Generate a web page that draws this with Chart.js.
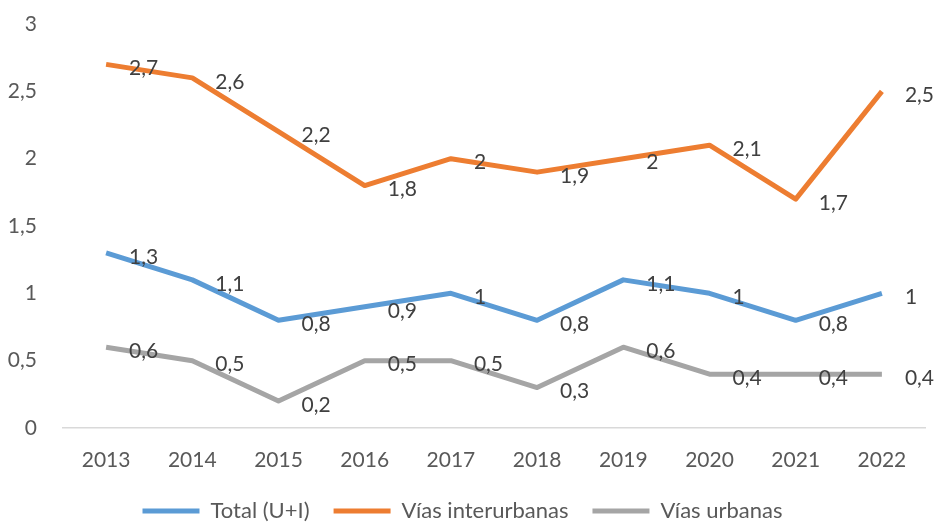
<!DOCTYPE html>
<html>
<head>
<meta charset="utf-8">
<script src="https://cdn.jsdelivr.net/npm/chart.js@4/dist/chart.umd.min.js"></script>
<style>
  html, body { margin: 0; padding: 0; background: #fff; }
  #wrap { width: 936px; height: 523px; }
</style>
</head>
<body>
<div id="wrap"><canvas id="chart"></canvas></div>
<script>
// ── DATA ─────────────────────────────────────────
const years        = ['2013', '2014', '2015', '2016', '2017', '2018', '2019', '2020', '2021', '2022'];
const total        = [1.3, 1.1, 0.8, 0.9, 1, 0.8, 1.1, 1, 0.8, 1];
const interurbanas = [2.7, 2.6, 2.2, 1.8, 2, 1.9, 2, 2.1, 1.7, 2.5];
const urbanas      = [0.6, 0.5, 0.2, 0.5, 0.5, 0.3, 0.6, 0.4, 0.4, 0.4];

const FONT = 'Lato';
const LEGEND_PAD = 24;
const LEGEND_Y = 511;    // centre line of the legend row
const AREA_BOTTOM = 428; // bottom of plot area
const fmt = v => String(v).replace('.', ',');

// ── DATA LABELS (to the right of each point) ─────
const valueLabels = {
  id: 'valueLabels',
  afterLayout(chart) {
    // drop the legend row lower than chart.js would place it
    const lg = chart.legend;
    const h = lg.bottom - lg.top;
    lg.top = LEGEND_Y - LEGEND_PAD - 11;
    lg.bottom = lg.top + h;
  },
  afterDatasetsDraw(chart) {
    const ctx = chart.ctx;
    ctx.save();
    ctx.font = `21px ${FONT}`;
    ctx.fillStyle = '#404040';
    ctx.textAlign = 'left';
    ctx.textBaseline = 'middle';
    chart.data.datasets.forEach((ds, i) => {
      chart.getDatasetMeta(i).data.forEach((pt, j) => {
        ctx.fillText(fmt(ds.data[j]), pt.x + 23, pt.y + 4);
      });
    });
    ctx.restore();
  }
};

function line(label, data, color) {
  return {
    label, data,
    borderColor: color,
    backgroundColor: color,
    borderWidth: 5,
    pointRadius: 0,
    tension: 0,
    borderJoinStyle: 'round',
  };
}

new Chart(document.getElementById('chart'), {
  type: 'line',
  data: {
    labels: years,
    datasets: [
      line('Total (U+I)', total, '#5B9BD5'),
      line('Vías interurbanas', interurbanas, '#ED7D31'),
      line('Vías urbanas', urbanas, '#A5A5A5'),
    ],
  },
  options: {
    responsive: true,
    maintainAspectRatio: false,
    animation: false,
    layout: { padding: { top: 24, right: 11, left: 0, bottom: 0 } },
    plugins: {
      tooltip: { enabled: false },
      legend: {
        position: 'bottom',
        labels: {
          color: '#595959',
          font: { family: FONT, size: 22 },
          boxWidth: 57,
          boxHeight: 5,
          padding: LEGEND_PAD,
          generateLabels: chart => chart.data.datasets.map((ds, i) => ({
            text: ds.label,
            fillStyle: ds.borderColor,
            strokeStyle: ds.borderColor,
            lineWidth: 0,
            fontColor: '#595959',
            datasetIndex: i,
          })),
        },
      },
    },
    scales: {
      x: {
        offset: true,
        grid: { display: false, drawTicks: false },
        border: { display: true, color: '#D9D9D9', width: 1.5 },
        ticks: { color: '#595959', font: { family: FONT, size: 21 }, padding: 20 },
        afterFit: s => {
          const lh = s.chart.legend ? s.chart.legend.height : 0;
          s.height = 523 - AREA_BOTTOM - lh;
        },
      },
      y: {
        min: 0,
        max: 3,
        grid: { display: false, drawTicks: false },
        border: { display: false },
        ticks: {
          stepSize: 0.5,
          color: '#595959',
          font: { family: FONT, size: 21 },
          padding: 26,
          callback: v => fmt(v),
        },
        afterFit: s => {
          s.width = 63;
          s.paddingTop = 0;
          s.paddingBottom = 0;
        },
      },
    },
  },
  plugins: [valueLabels],
});
</script>
</body>
</html>
